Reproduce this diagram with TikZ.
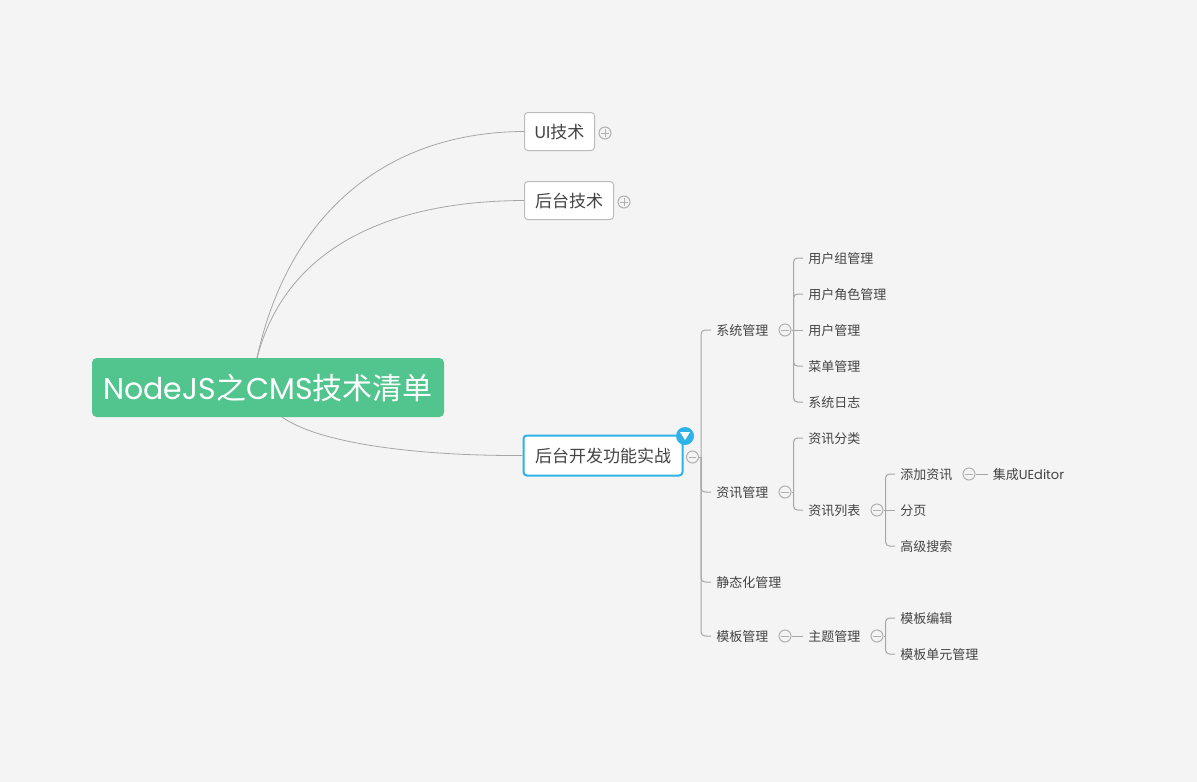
\documentclass[tikz,border=0pt]{standalone}
\usepackage{fontspec}
\setmainfont{Noto Sans CJK SC}
\newfontfamily\latinfont{Poppins}
\usetikzlibrary{calc}
\definecolor{colorPage}{HTML}{F4F4F4}
\definecolor{colorRoot}{HTML}{52C48D}
\definecolor{colorBlue}{HTML}{2EB3E8}
\definecolor{colorBorder}{HTML}{BBBBBB}
\definecolor{colorLine}{HTML}{A6A6A6}
\definecolor{colorHub}{HTML}{B0B0B0}
\definecolor{colorText}{HTML}{444444}
\tikzset{
    topicBox/.style={draw=colorBorder, fill=white, line width=0.75pt, rounded corners=2.5pt, inner sep=0pt,
        minimum height=28.5pt, text height=12.2pt, text depth=1pt, text=colorText, font=\fontsize{12.75pt}{15pt}\selectfont},
    leafText/.style={anchor=west, inner xsep=3.75pt, inner ysep=0pt, text height=9pt, text depth=1pt,
        text=colorText, font=\fontsize{9.75pt}{12pt}\selectfont},
    curveLine/.style={draw=colorLine, line width=0.6pt},
    branchLine/.style={draw=colorLine, line width=0.75pt, rounded corners=3pt},
    hubMinus/.style={circle, draw=colorHub, fill=colorPage, line width=0.75pt, inner sep=0pt, minimum size=9pt,
        path picture={\draw[colorHub, line width=0.75pt] (path picture bounding box.center) ++(-2.8pt,0) -- ++(5.6pt,0);}},
    hubPlus/.style={hubMinus,
        path picture={\draw[colorHub, line width=0.75pt] (path picture bounding box.center) ++(-2.8pt,0) -- ++(5.6pt,0)
            (path picture bounding box.center) ++(0,-2.8pt) -- ++(0,5.6pt);}},
}
\begin{document}
\begin{tikzpicture}[x=0.75pt, y=-0.75pt]
    \useasboundingbox (0,0) rectangle (1197,782);
    \fill[colorPage] (0,0) rectangle (1197,782);

    % Root and main topics
    \node[fill=colorRoot, rounded corners=3.5pt, text=white, inner sep=0pt, minimum width=264pt, minimum height=44.25pt,
        text height=20pt, text depth=2pt, font=\fontsize{22.5pt}{26pt}\selectfont] (root) at (268,387.5) {{\latinfont NodeJS}之{\latinfont CMS}技术清单};
    \coordinate (rootTop) at (257,358);
    \coordinate (rootBottom) at (282,417);
    \node[topicBox, minimum width=52.5pt] (uiTopic) at (559.5,131.5) {{\latinfont UI}技术};
    \node[topicBox, minimum width=66.75pt] (backTopic) at (569,200.5) {后台技术};
    \node[topicBox, draw=colorBlue, line width=1.5pt, minimum width=119.25pt, minimum height=30pt] (devTopic) at (603,455.5) {后台开发功能实战};

    \draw[curveLine] (rootTop) .. controls (288,215) and (385,132) .. (uiTopic.west);
    \draw[curveLine] (rootTop) .. controls (285,250) and (385,201) .. (backTopic.west);
    \draw[curveLine] (rootBottom) .. controls (320,444) and (420,456) .. (devTopic.west);

    % Second level
    \node[leafText] (sysNode) at (711,330) {系统管理};
    \node[leafText] (newsNode) at (711,492) {资讯管理};
    \node[leafText] (staticNode) at (711,582) {静态化管理};
    \node[leafText] (tplNode) at (711,636) {模板管理};

    % Third level
    \node[leafText] (userGroup) at (803,258) {用户组管理};
    \node[leafText] (userRole) at (803,294) {用户角色管理};
    \node[leafText] (userAdmin) at (803,330) {用户管理};
    \node[leafText] (menuAdmin) at (803,366) {菜单管理};
    \node[leafText] (sysLog) at (803,402) {系统日志};
    \node[leafText] (newsType) at (803,438) {资讯分类};
    \node[leafText] (newsList) at (803,510) {资讯列表};
    \node[leafText] (themeNode) at (803,636) {主题管理};

    % Fourth level and beyond
    \node[leafText] (newsAdd) at (895,474) {添加资讯};
    \node[leafText] (pageNode) at (895,510) {分页};
    \node[leafText] (searchNode) at (895,546) {高级搜索};
    \node[leafText] (tplEdit) at (895,618) {模板编辑};
    \node[leafText] (tplUnit) at (895,654) {模板单元管理};
    \node[leafText] (editorNode) at (987.5,474) {集成{\latinfont UEditor}};

    % Fold buttons
    \node[hubPlus] (uiHub) at (605,133) {};
    \node[hubPlus] (backHub) at (624,202) {};
    \node[hubMinus] (devHub) at (692.5,457) {};
    \node[hubMinus] (sysHub) at (785,330) {};
    \node[hubMinus] (newsHub) at (785,492) {};
    \node[hubMinus] (tplHub) at (785,636) {};
    \node[hubMinus] (listHub) at (877,510) {};
    \node[hubMinus] (themeHub) at (877,636) {};
    \node[hubMinus] (addHub) at (969,474) {};

    % Brackets
    \foreach \hub/\kid in {devHub/sysNode, devHub/newsNode, devHub/staticNode, devHub/tplNode,
        sysHub/userGroup, sysHub/userRole, sysHub/menuAdmin, sysHub/sysLog,
        newsHub/newsType, newsHub/newsList,
        listHub/newsAdd, listHub/searchNode,
        themeHub/tplEdit, themeHub/tplUnit} {
        \draw[branchLine] (\hub.east) -- ($(\hub.east)+(2,0)$);
        \draw[branchLine] ($(\hub.east)+(2,0)$) |- (\kid.west);
    }
    \foreach \hub/\kid in {sysHub/userAdmin, tplHub/themeNode, listHub/pageNode, addHub/editorNode} {
        \draw[branchLine] (\hub.east) -- (\kid.west);
    }

    % Badge on the selected topic
    \node[circle, fill=colorBlue, inner sep=0pt, minimum size=13.5pt,
        path picture={\fill[white] (path picture bounding box.center) ++(-3.75pt,3pt) -- ++(7.5pt,0) -- ++(-3.75pt,-6pt) -- cycle;}] (badge) at (685,436) {};
\end{tikzpicture}
\end{document}
